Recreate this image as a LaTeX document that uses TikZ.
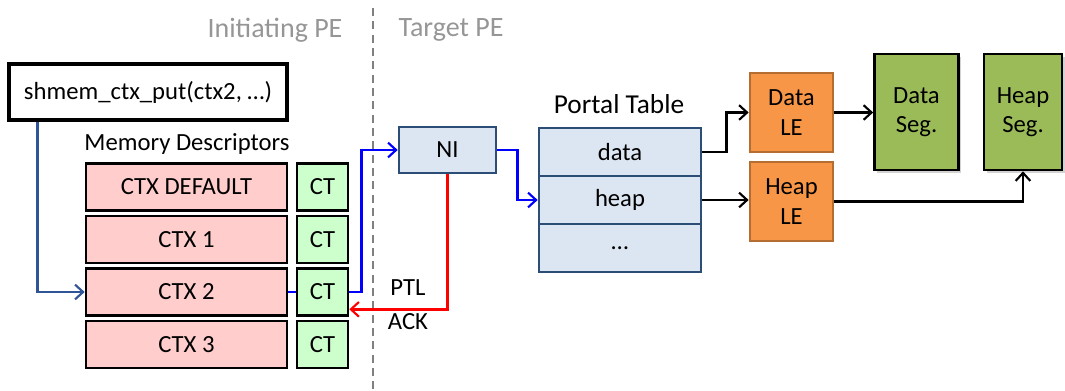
\documentclass[tikz,border=0pt]{standalone}
\usepackage{fontspec}
\setmainfont{Carlito}
\usepackage{tikz}
\usetikzlibrary{arrows.meta, positioning, calc, shadows}

\definecolor{ctxpink}{RGB}{255,206,204}
\definecolor{ctgreen}{RGB}{204,255,204}
\definecolor{ptfill}{RGB}{220,230,242}
\definecolor{ptline}{RGB}{44,77,117}
\definecolor{lefill}{RGB}{247,150,70}
\definecolor{leline}{RGB}{182,109,49}
\definecolor{segfill}{RGB}{155,187,89}
\definecolor{mdblue}{RGB}{47,85,151}
\definecolor{headgray}{RGB}{150,150,150}

\tikzset{
  txt/.style={font=\fontsize{18.5}{20}\selectfont, inner sep=0pt, align=center},
  ctxbox/.style={txt, draw=black, line width=2pt, fill=ctxpink, minimum width=150.75pt, minimum height=35.25pt},
  ctbox/.style={txt, draw=black, line width=2pt, fill=ctgreen, minimum width=38.25pt, minimum height=35.25pt},
  ptrow/.style={txt, draw=ptline, line width=2pt, fill=ptfill, minimum width=121.5pt, minimum height=36pt},
  lebox/.style={txt, draw=leline, line width=2pt, fill=lefill, minimum width=62.25pt, minimum height=59.25pt},
  segbox/.style={txt, draw=black, line width=2pt, fill=segfill, minimum height=87pt,
    drop shadow={shadow xshift=2pt, shadow yshift=-2pt, opacity=0.35}},
  arr/.style={line width=1.8pt, -{Straight Barb[length=6pt, width=11pt, line width=1.6pt]}},
}

\begin{document}
\begin{tikzpicture}[x=0.75pt, y=-0.75pt]
  \useasboundingbox (0,0) rectangle (1065,391);

  % Initiating / target side
  \node[txt, headgray, font=\fontsize{21}{24}\selectfont] (init) at (275,30) {Initiating PE};
  \node[txt, headgray, font=\fontsize{21}{24}\selectfont] (target) at (451,30) {Target PE};
  \coordinate (divtop) at (373,8);
  \coordinate (divbot) at (373,391);
  \draw[gray, line width=1.7pt, dash pattern=on 6pt off 4pt] (divtop) -- (divbot);

  % Call and memory descriptors
  \node[txt, draw=black, line width=2.4pt, fill=white, minimum width=208.5pt, minimum height=42pt] (call) at (148,92) {shmem\_ctx\_put(ctx2, …)};
  \node[txt] (mdlabel) at (187,144) {Memory Descriptors};
  \foreach \lbl [count=\i from 0] in {CTX DEFAULT, CTX 1, CTX 2, CTX 3} {
    \node[ctxbox] (ctx\i) at (186.5,187+\i*52.5) {\lbl};
    \node[ctbox] (ct\i) at (322.5,187+\i*52.5) {CT};
  }

  % Network interface and portal table
  \node[txt, draw=ptline, line width=2pt, fill=ptfill, minimum width=72.75pt, minimum height=34.5pt] (ni) at (447.5,150) {NI};
  \node[txt, font=\fontsize{20.5}{22}\selectfont] (ptlabel) at (619,104) {Portal Table};
  \node[ptrow] (data) at (620,152) {data};
  \node[ptrow] (heap) at (620,200) {heap};
  \node[ptrow] (more) at (620,248) {…};

  % List entries and segments
  \node[lebox] (dataLE) at (791.5,112.5) {Data\\[2pt]LE};
  \node[lebox] (heapLE) at (791.5,201.5) {Heap\\[2pt]LE};
  \node[segbox, minimum width=63pt] (dataSeg) at (916.5,112) {Data\\[2pt]Seg.};
  \node[segbox, minimum width=58.5pt] (heapSeg) at (1023,112) {Heap\\[2pt]Seg.};

  % Put path
  \draw[arr, mdblue] ($(call.south west)+(30,0)$) |- (ctx2.west);
  \draw[line width=1.8pt, blue] (ctx2.east) -- (ct2.west);
  \draw[arr, blue] (ct2.east) -- ++(12,0) |- (ni.west);
  \draw[arr, blue] (ni.east) -- ++(20,0) |- (heap.west);
  \draw[arr, red] (ni.south) |- ([yshift=-13pt]ct2.east);
  \node[txt] (ptl) at (408,288) {PTL};
  \node[txt] (ack) at (408,322) {ACK};

  % Matching
  \draw[arr] (data.east) -- ++(24,0) |- (dataLE.west);
  \draw[arr] (dataLE.east) -- (dataSeg.west |- dataLE.east);
  \draw[arr] (heap.east) -- (heapLE.west |- heap.east);
  \draw[arr] (heapLE.east) -| (heapSeg.south);
\end{tikzpicture}
\end{document}
